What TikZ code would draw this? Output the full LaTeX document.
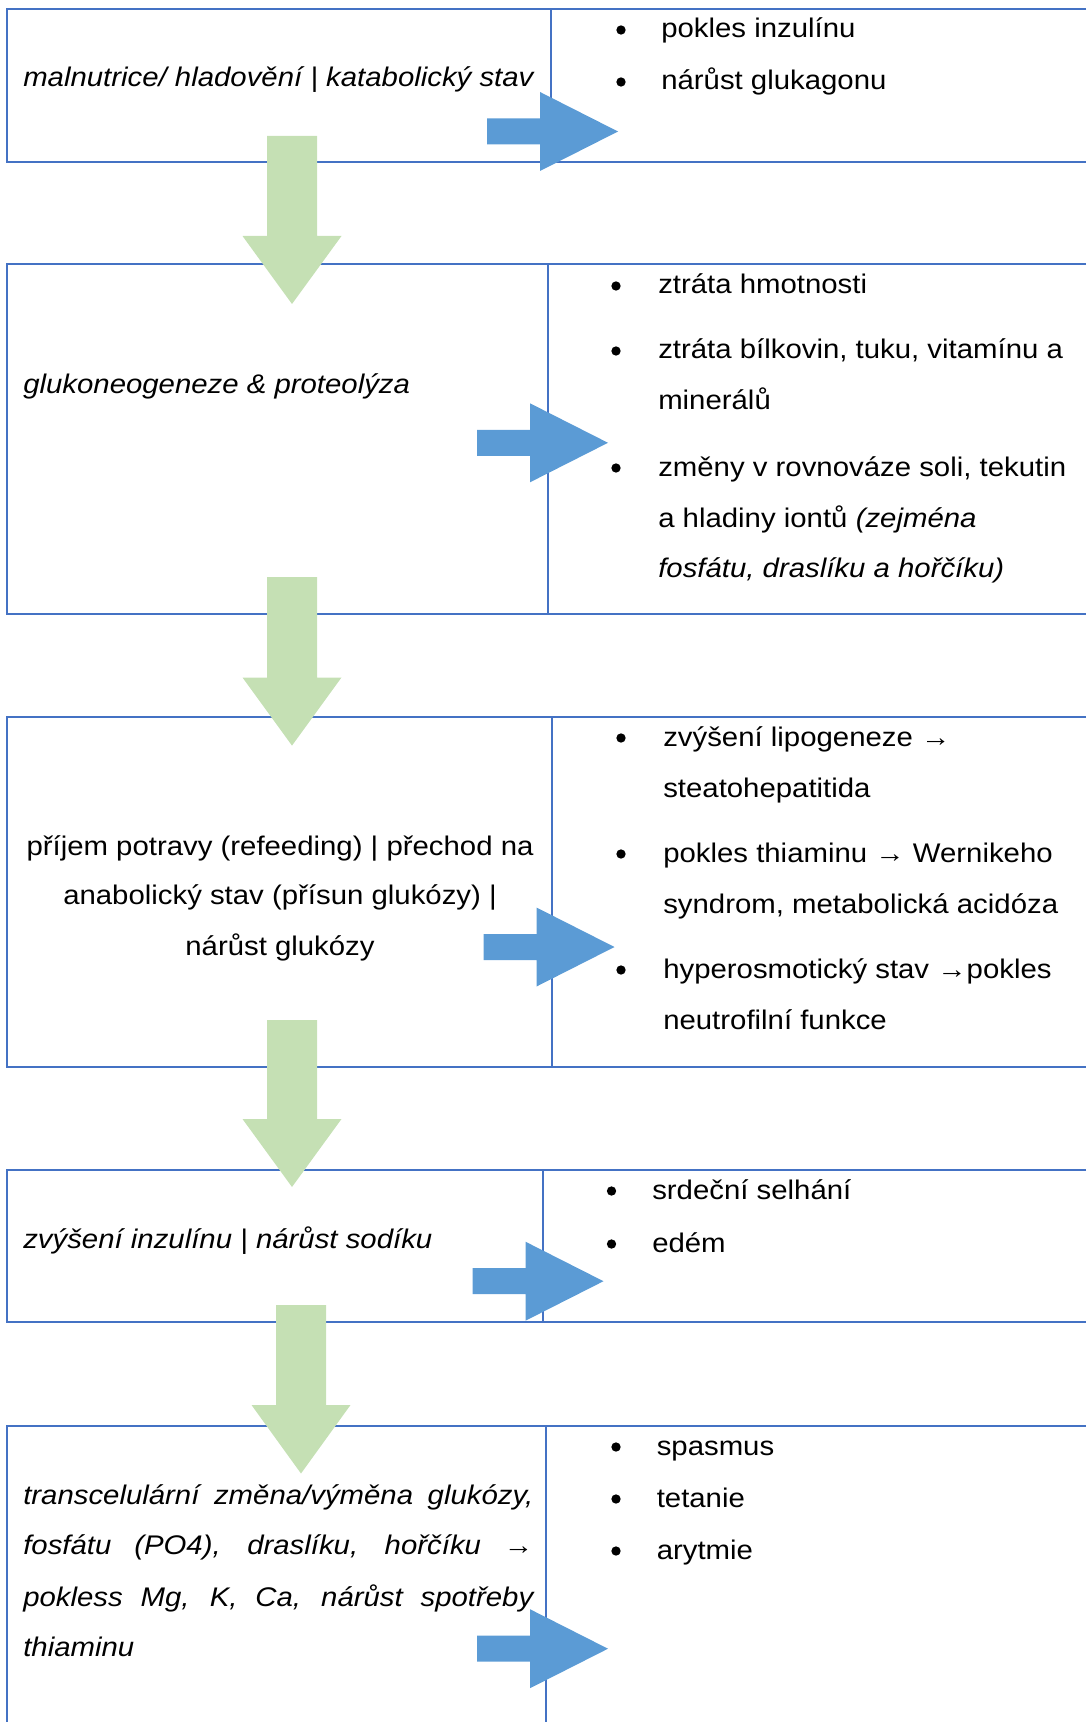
\documentclass[tikz,border=0pt]{standalone}
\usepackage{fontspec}
\setmainfont{Liberation Sans}[FakeStretch=1.09]
\definecolor{tline}{HTML}{4472C4}
\definecolor{barrowc}{HTML}{5B9BD5}
\definecolor{garrowc}{HTML}{C5E0B4}
\newcommand\bluearr[3]{% name, shaft start x, centre y
  \fill[barrowc] ({#2},{#3-13}) -- ({#2+53},{#3-13}) -- ({#2+53},{#3-39.5}) -- ({#2+131},{#3})
    -- ({#2+53},{#3+39.5}) -- ({#2+53},{#3+13}) -- ({#2},{#3+13}) -- cycle;
  \coordinate (#1) at ({#2+131},{#3});}
\newcommand\greenarr[5]{% name, centre x, top y, head y, tip y
  \fill[garrowc] ({#2-25},{#3}) -- ({#2+25},{#3}) -- ({#2+25},{#4}) -- ({#2+49.5},{#4})
    -- ({#2},{#5}) -- ({#2-49.5},{#4}) -- ({#2-25},{#4}) -- cycle;
  \coordinate (#1) at ({#2},{#5});}
\begin{document}
\begin{tikzpicture}[x=0.75pt,y=-0.75pt,
  hline/.style={draw=tline,line width=1.5pt},
  vline/.style={draw=tline,line width=0.9pt},
  txt/.style={anchor=base west,inner sep=0pt,font=\fontsize{20.2pt}{38.25pt}\selectfont},
  itxt/.style={txt,font=\fontsize{20.2pt}{38.25pt}\selectfont\itshape},
  ctxt/.style={txt,anchor=base},
  bul/.style={fill=black,circle,inner sep=0pt,minimum size=7pt}]
\useasboundingbox (0,0) rectangle (1086,1722);
% ---- table rows ----
% row 1
\draw[hline] (1086,9) -- (7,9) -- (7,162) -- (1086,162);
\draw[vline] (551,9) -- (551,162);
% row 2
\draw[hline] (1086,264) -- (7,264) -- (7,614) -- (1086,614);
\draw[vline] (548,264) -- (548,614);
% row 3
\draw[hline] (1086,717) -- (7,717) -- (7,1067) -- (1086,1067);
\draw[vline] (552,717) -- (552,1067);
% row 4
\draw[hline] (1086,1170) -- (7,1170) -- (7,1322) -- (1086,1322);
\draw[vline] (543,1170) -- (543,1322);
% row 5
\draw[hline] (1086,1426) -- (7,1426) -- (7,1722);
\draw[vline] (546,1426) -- (546,1722);
% ---- texts ----
% row 1
\node[itxt] (l1) at (23,87) {malnutrice/ hladovění | katabolický stav};
\node[bul] (b1a) at (621,30) {};
\node[txt] (r1a) at (661,38) {pokles inzulínu};
\node[bul] (b1b) at (621,82) {};
\node[txt] (r1b) at (661,90) {nárůst glukagonu};
% row 2
\node[itxt] (l2) at (23,393) {glukoneogeneze \& proteolýza};
\node[bul] (b2a) at (616,286) {};
\node[txt] (r2a) at (658,294) {ztráta hmotnosti};
\node[bul] (b2b) at (616,351) {};
\node[txt] (r2b) at (658,359) {ztráta bílkovin, tuku, vitamínu a};
\node[txt] (r2c) at (658,410) {minerálů};
\node[bul] (b2c) at (616,468) {};
\node[txt] (r2d) at (658,476) {změny v rovnováze soli, tekutin};
\node[txt] (r2e) at (658,527) {a hladiny iontů \textit{(zejména}};
\node[itxt] (r2f) at (658,577) {fosfátu, draslíku a hořčíku)};
% row 3
\node[ctxt] (l3a) at (280,855) {příjem potravy (refeeding) | přechod na};
\node[ctxt] (l3b) at (280,904) {anabolický stav (přísun glukózy) |};
\node[ctxt] (l3c) at (280,955) {nárůst glukózy};
\node[bul] (b3a) at (621,738) {};
\node[txt] (r3a) at (663,746) {zvýšení lipogeneze →};
\node[txt] (r3b) at (663,797) {steatohepatitida};
\node[bul] (b3b) at (621,854) {};
\node[txt] (r3c) at (663,862) {pokles thiaminu → Wernikeho};
\node[txt] (r3d) at (663,913) {syndrom, metabolická acidóza};
\node[bul] (b3c) at (621,970) {};
\node[txt] (r3e) at (663,978) {hyperosmotický stav →pokles};
\node[txt] (r3f) at (663,1029) {neutrofilní funkce};
% row 4
\node[itxt] (l4) at (23,1248.5) {zvýšení inzulínu | nárůst sodíku};
\node[bul] (b4a) at (611.5,1191) {};
\node[txt] (r4a) at (652,1199) {srdeční selhání};
\node[bul] (b4b) at (611.5,1244) {};
\node[txt] (r4b) at (652,1252) {edém};
% row 5
\node[itxt] (l5a) at (23,1504) {\makebox[382.5pt][s]{transcelulární změna/výměna glukózy,}};
\node[itxt] (l5b) at (23,1554) {\makebox[382.5pt][s]{fosfátu (PO4), draslíku, hořčíku →}};
\node[itxt] (l5c) at (23,1606) {\makebox[382.5pt][s]{pokless Mg, K, Ca, nárůst spotřeby}};
\node[itxt] (l5d) at (23,1656) {thiaminu};
\node[bul] (b5a) at (616,1447) {};
\node[txt] (r5a) at (656.5,1455) {spasmus};
\node[bul] (b5b) at (616,1499) {};
\node[txt] (r5b) at (656.5,1507) {tetanie};
\node[bul] (b5c) at (616,1551) {};
\node[txt] (r5c) at (656.5,1559) {arytmie};
% ---- arrows ----
\bluearr{ba1}{487}{131.5}
\bluearr{ba2}{477}{442.8}
\bluearr{ba3}{483.5}{947}
\bluearr{ba4}{472.5}{1281.2}
\bluearr{ba5}{477}{1648.7}
\greenarr{ga1}{292}{136}{236}{304}
\greenarr{ga2}{292}{577}{677.5}{745.6}
\greenarr{ga3}{292}{1020}{1119}{1187}
\greenarr{ga4}{301}{1305}{1405}{1473.5}
\end{tikzpicture}
\end{document}
